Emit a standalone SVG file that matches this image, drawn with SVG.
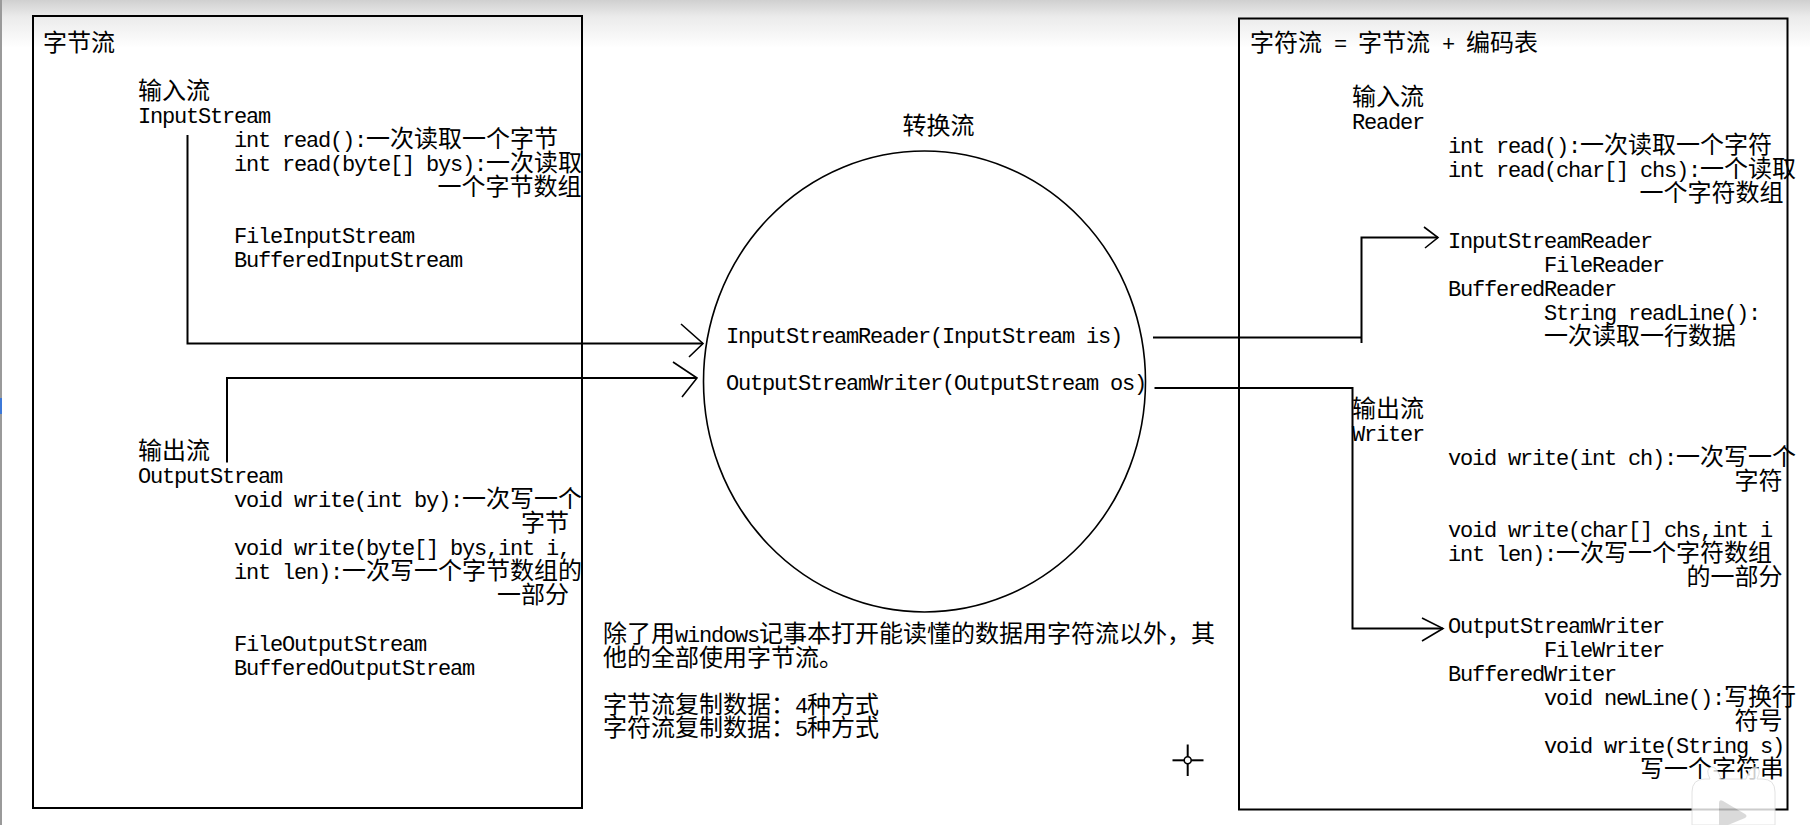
<svg xmlns="http://www.w3.org/2000/svg" width="1810" height="825" viewBox="0 0 1810 825">
<defs>
<linearGradient id="topglow" x1="0" y1="0" x2="0" y2="1">
<stop offset="0" stop-color="#d0d0d0"/>
<stop offset="0.35" stop-color="#ebebeb"/>
<stop offset="1" stop-color="#ffffff"/>
</linearGradient>
<style>
.box{fill:none;stroke:#000;stroke-width:2}
.ln{fill:none;stroke:#000;stroke-width:2}
.hd{fill:none;stroke:#000;stroke-width:1.6}
.circ{fill:none;stroke:#000;stroke-width:1.6}
text{font-family:"Noto Sans CJK SC","Noto Sans CJK JP",sans-serif;font-size:24px;fill:#000}
.a{font-family:"Liberation Mono","DejaVu Sans Mono",monospace;font-size:22px;letter-spacing:-1.2px}
</style>
</defs>
<rect x="0" y="0" width="1810" height="825" fill="#ffffff"/>
<rect x="0" y="0" width="1810" height="48" fill="url(#topglow)"/>
<rect x="0" y="0" width="2" height="825" fill="#9a9a9a"/>
<rect x="0" y="398" width="2" height="16" fill="#3c78d8"/>

<g id="byte-stream">
<rect class="box" x="33" y="16" width="549" height="792"/>
<text x="43" y="50.5">字节流</text>
<text x="138" y="98.5">输入流</text>
<text x="138" y="122.7"><tspan class="a">InputStream</tspan></text>
<text x="234" y="146.7"><tspan class="a">int read():</tspan>一次读取一个字节</text>
<text x="234" y="170.7"><tspan class="a">int read(byte[] bys):</tspan>一次读取</text>
<text x="437.5" y="194.7">一个字节数组</text>
<text x="234" y="242.7"><tspan class="a">FileInputStream</tspan></text>
<text x="234" y="266.7"><tspan class="a">BufferedInputStream</tspan></text>
<text x="138" y="458.5">输出流</text>
<text x="138" y="482.5"><tspan class="a">OutputStream</tspan></text>
<text x="234" y="506.5"><tspan class="a">void write(int by):</tspan>一次写一个</text>
<text x="521" y="530.5">字节</text>
<text x="234" y="554.5"><tspan class="a">void write(byte[] bys,int i,</tspan></text>
<text x="234" y="578.5"><tspan class="a">int len):</tspan>一次写一个字节数组的</text>
<text x="497" y="602.5">一部分</text>
<text x="234" y="650.5"><tspan class="a">FileOutputStream</tspan></text>
<text x="234" y="674.5"><tspan class="a">BufferedOutputStream</tspan></text>
</g>

<g id="convert-stream">
<text x="902.5" y="134">转换流</text>
<ellipse class="circ" cx="924.5" cy="381.5" rx="221" ry="230.5"/>
<text x="726" y="343"><tspan class="a">InputStreamReader(InputStream is)</tspan></text>
<text x="726" y="390"><tspan class="a">OutputStreamWriter(OutputStream os)</tspan></text>
</g>

<g id="note">
<text x="603" y="642">除了用<tspan class="a">windows</tspan>记事本打开能读懂的数据用字符流以外，其</text>
<text x="603" y="665.5">他的全部使用字节流。</text>
<text x="603" y="712.5">字节流复制数据：<tspan class="a">4</tspan>种方式</text>
<text x="603" y="736">字符流复制数据：<tspan class="a">5</tspan>种方式</text>
</g>

<g id="char-stream">
<rect class="box" x="1239" y="18.5" width="548.5" height="791"/>
<text x="1250" y="50.5">字符流<tspan class="a"> = </tspan>字节流<tspan class="a"> + </tspan>编码表</text>
<text x="1352" y="104.5">输入流</text>
<text x="1352" y="128.5"><tspan class="a">Reader</tspan></text>
<text x="1448" y="152.5"><tspan class="a">int read():</tspan>一次读取一个字符</text>
<text x="1448" y="176.5"><tspan class="a">int read(char[] chs):</tspan>一个读取</text>
<text x="1639.5" y="200.5">一个字符数组</text>
<text x="1448" y="248"><tspan class="a">InputStreamReader</tspan></text>
<text x="1544" y="272"><tspan class="a">FileReader</tspan></text>
<text x="1448" y="296"><tspan class="a">BufferedReader</tspan></text>
<text x="1544" y="320"><tspan class="a">String readLine():</tspan></text>
<text x="1544" y="344">一次读取一行数据</text>
<text x="1352" y="416.5">输出流</text>
<text x="1352" y="440.5"><tspan class="a">Writer</tspan></text>
<text x="1448" y="464.5"><tspan class="a">void write(int ch):</tspan>一次写一个</text>
<text x="1734.5" y="488.5">字符</text>
<text x="1448" y="536.5"><tspan class="a">void write(char[] chs,int i</tspan></text>
<text x="1448" y="560.5"><tspan class="a">int len):</tspan>一次写一个字符数组</text>
<text x="1686.5" y="584.5">的一部分</text>
<text x="1448" y="632.5"><tspan class="a">OutputStreamWriter</tspan></text>
<text x="1544" y="656.5"><tspan class="a">FileWriter</tspan></text>
<text x="1448" y="680.5"><tspan class="a">BufferedWriter</tspan></text>
<text x="1544" y="704.5"><tspan class="a">void newLine():</tspan>写换行</text>
<text x="1734.5" y="728.5">符号</text>
<text x="1544" y="752.5"><tspan class="a">void write(String s)</tspan></text>
<text x="1640" y="776.5">写一个字符串</text>
</g>

<g id="connectors">
<polyline class="ln" points="187.5,135 187.5,343.5 703,343.5"/>
<polyline class="hd" points="681,324 703,343.5 689,357"/>
<polyline class="ln" points="227,462.5 227,378 697,378"/>
<polyline class="hd" points="673,362 697,378 682,397"/>
<polyline class="ln" points="1153,337.5 1361.5,337.5"/>
<polyline class="ln" points="1361.5,343 1361.5,237.5 1438,237.5"/>
<polyline class="hd" points="1424,227 1438,237.5 1425,248"/>
<polyline class="ln" points="1154.5,388 1352.5,388 1352.5,628.5 1443,628.5"/>
<polyline class="hd" points="1422,618 1443,628.5 1422,641"/>
</g>

<g id="cursor">
<line x1="1172.5" y1="760.3" x2="1203.5" y2="760.3" stroke="#000" stroke-width="2"/>
<line x1="1187.7" y1="744.5" x2="1187.7" y2="776" stroke="#000" stroke-width="2"/>
<circle cx="1187.7" cy="760.3" r="3.5" fill="#fff" stroke="#000" stroke-width="1.6"/>
</g>

<g id="watermark" opacity="0.8">
<path d="M1692,792 Q1692,779 1705,779 L1710,779 Q1705,769 1711,767 Q1717,766 1721,779 L1746,779 Q1750,766 1756,767 Q1762,769 1757,779 L1762,779 Q1775,779 1775,792 L1775,825 L1692,825 Z" fill="#ffffff" stroke="#dcdcdc" stroke-width="1"/>
<path d="M1719,803 Q1719,799 1723,801 L1745,814 Q1748,816 1745,818 L1728,825 L1719,825 Z" fill="#d2d2d2"/>
</g>
</svg>
